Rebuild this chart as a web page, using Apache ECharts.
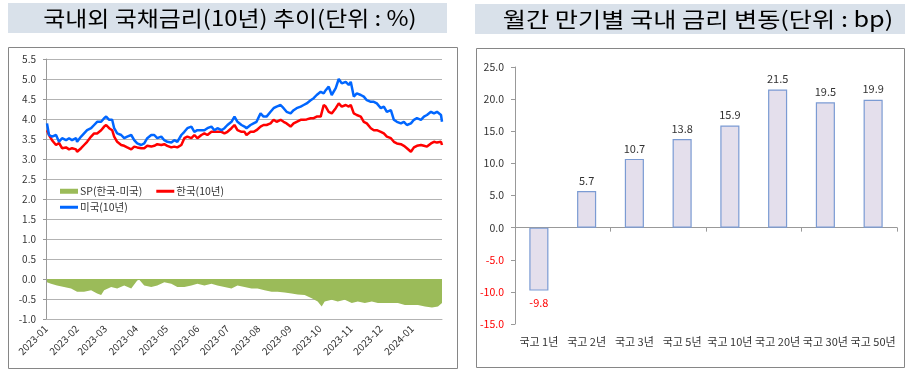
<!DOCTYPE html>
<html>
<head>
<meta charset="utf-8">
<script src="https://cdn.jsdelivr.net/npm/echarts@6/dist/echarts.min.js"></script>
<style>
  html, body { margin: 0; padding: 0; background: #fff; }
  #chart { width: 910px; height: 376px; }
</style>
</head>
<body>
<div id="chart"></div>
<script>
// 10y yields (left panel)
const lineDates = [
  '2023-01-02','2023-01-04','2023-01-07','2023-01-11','2023-01-14','2023-01-17','2023-01-21','2023-01-24','2023-01-27','2023-01-31',
  '2023-02-01','2023-02-05','2023-02-08','2023-02-11','2023-02-15','2023-02-18','2023-02-21','2023-02-25','2023-02-28',
  '2023-03-02','2023-03-05','2023-03-08','2023-03-10','2023-03-13','2023-03-17','2023-03-20','2023-03-23','2023-03-27','2023-03-30',
  '2023-04-02','2023-04-06','2023-04-09','2023-04-12','2023-04-16','2023-04-19','2023-04-22','2023-04-26','2023-04-29',
  '2023-05-02','2023-05-06','2023-05-09','2023-05-12','2023-05-16','2023-05-19','2023-05-22','2023-05-26','2023-05-29',
  '2023-06-01','2023-06-05','2023-06-08','2023-06-11','2023-06-15','2023-06-18','2023-06-21','2023-06-25','2023-06-28',
  '2023-07-01','2023-07-05','2023-07-08','2023-07-11','2023-07-15','2023-07-18','2023-07-20','2023-07-24','2023-07-27','2023-07-30',
  '2023-08-03','2023-08-06','2023-08-09','2023-08-13','2023-08-16','2023-08-19','2023-08-23','2023-08-26','2023-08-29',
  '2023-09-02','2023-09-05','2023-09-08','2023-09-12','2023-09-15','2023-09-18','2023-09-22','2023-09-25','2023-09-28',
  '2023-10-02','2023-10-05','2023-10-07','2023-10-10','2023-10-13','2023-10-17','2023-10-20','2023-10-23','2023-10-27','2023-10-30',
  '2023-11-01','2023-11-04','2023-11-07','2023-11-11','2023-11-14','2023-11-17','2023-11-21','2023-11-24','2023-11-27',
  '2023-12-01','2023-12-04','2023-12-07','2023-12-11','2023-12-14','2023-12-17','2023-12-21','2023-12-24','2023-12-27','2023-12-31',
  '2024-01-03','2024-01-06','2024-01-10','2024-01-13','2024-01-16','2024-01-20','2024-01-23','2024-01-26','2024-01-30','2024-01-31'
];
const krRates = [
  3.72,3.60,3.47,3.35,3.40,3.27,3.29,3.24,3.27,3.24,
  3.18,3.27,3.35,3.43,3.56,3.64,3.64,3.72,3.81,
  3.85,3.77,3.72,3.56,3.43,3.35,3.33,3.29,3.24,3.31,
  3.29,3.27,3.27,3.33,3.31,3.33,3.37,3.35,3.37,
  3.33,3.29,3.31,3.29,3.35,3.52,3.56,3.52,3.60,
  3.52,3.60,3.64,3.60,3.68,3.68,3.68,3.68,3.64,
  3.68,3.77,3.85,3.72,3.68,3.68,3.60,3.68,3.68,3.72,
  3.81,3.85,3.85,3.89,3.98,3.93,3.98,3.93,3.89,
  3.81,3.89,3.93,3.98,3.98,3.99,4.02,4.02,4.06,
  4.06,4.35,4.31,4.18,4.14,4.27,4.39,4.31,4.35,4.31,
  4.35,4.14,4.10,4.06,3.93,3.89,3.77,3.72,3.72,
  3.68,3.64,3.56,3.52,3.43,3.39,3.37,3.33,3.27,3.18,
  3.29,3.33,3.35,3.33,3.31,3.39,3.43,3.41,3.43,3.35
];
const usRates = [
  3.89,3.60,3.56,3.60,3.43,3.52,3.47,3.52,3.47,3.52,
  3.43,3.56,3.64,3.72,3.77,3.85,3.93,3.93,4.02,
  4.06,3.98,3.98,3.77,3.64,3.60,3.52,3.56,3.60,3.47,
  3.39,3.35,3.39,3.52,3.60,3.60,3.52,3.56,3.47,
  3.43,3.41,3.47,3.43,3.60,3.68,3.77,3.81,3.68,
  3.72,3.72,3.72,3.77,3.81,3.72,3.77,3.72,3.77,
  3.85,3.93,4.06,3.93,3.85,3.81,3.77,3.85,3.89,3.93,
  4.14,4.06,4.06,4.18,4.27,4.31,4.35,4.27,4.18,
  4.14,4.22,4.27,4.31,4.35,4.39,4.47,4.52,4.60,
  4.68,4.64,4.72,4.81,4.60,4.77,5.00,4.89,4.93,4.85,
  4.93,4.56,4.64,4.60,4.56,4.47,4.43,4.43,4.39,
  4.27,4.31,4.18,4.22,3.98,3.93,3.89,3.93,3.85,3.89,
  3.98,4.02,3.98,4.06,4.10,4.18,4.14,4.18,4.10,3.93
];
const spreadDates = [
  '2023-01-02','2023-01-06','2023-01-12','2023-01-19','2023-01-26','2023-02-01','2023-02-08','2023-02-15','2023-02-21','2023-02-25',
  '2023-02-28','2023-03-07','2023-03-13','2023-03-20','2023-03-27','2023-04-02','2023-04-04','2023-04-09','2023-04-16','2023-04-22',
  '2023-04-29','2023-05-06','2023-05-12','2023-05-19','2023-05-26','2023-06-01','2023-06-08','2023-06-15','2023-06-21','2023-06-28',
  '2023-07-05','2023-07-11','2023-07-18','2023-07-25','2023-07-31','2023-08-07','2023-08-14','2023-08-20','2023-08-27','2023-09-03',
  '2023-09-09','2023-09-16','2023-09-23','2023-09-29','2023-10-03','2023-10-06','2023-10-13','2023-10-19','2023-10-26','2023-11-02',
  '2023-11-08','2023-11-15','2023-11-22','2023-11-28','2023-12-05','2023-12-12','2023-12-18','2023-12-25','2024-01-01','2024-01-07',
  '2024-01-14','2024-01-21','2024-01-27','2024-01-31'
];
const spreadValues = [
  -0.08,-0.12,-0.16,-0.20,-0.24,-0.32,-0.32,-0.28,-0.36,-0.40,
  -0.28,-0.20,-0.24,-0.16,-0.24,-0.04,-0.02,-0.16,-0.20,-0.16,
  -0.08,-0.12,-0.20,-0.20,-0.16,-0.12,-0.16,-0.12,-0.16,-0.20,
  -0.24,-0.16,-0.20,-0.24,-0.24,-0.28,-0.32,-0.32,-0.34,-0.36,
  -0.39,-0.40,-0.48,-0.56,-0.69,-0.56,-0.52,-0.56,-0.52,-0.60,
  -0.56,-0.60,-0.56,-0.60,-0.60,-0.60,-0.60,-0.65,-0.65,-0.65,
  -0.69,-0.71,-0.69,-0.60
];

// monthly change by tenor (right panel), bp
const tenorLabels = ['국고 1년', '국고 2년', '국고 3년', '국고 5년', '국고 10년', '국고 20년', '국고 30년', '국고 50년'];
const changeBp = [-9.8, 5.7, 10.7, 13.8, 15.9, 21.5, 19.5, 19.9];

const FONT = '"Noto Sans CJK KR", "Noto Sans", sans-serif';
const LINE_ICON = 'path://M0,0H18V3H0Z';
const chart = echarts.init(document.getElementById('chart'), null, { renderer: 'canvas' });

chart.setOption({
  animation: false,
  textStyle: { fontFamily: FONT },
  graphic: [
    { type: 'rect', shape: { x: 8, y: 3, width: 439, height: 30 }, style: { fill: '#d9e1ea' } },
    { type: 'text', x: 230, y: 18, scaleX: 1.14, style: { text: '국내외 국채금리(10년) 추이(단위 : %)', align: 'center', verticalAlign: 'middle', font: '21px ' + FONT, fill: '#000' } },
    { type: 'rect', shape: { x: 475, y: 4, width: 430, height: 30 }, style: { fill: '#d9e1ea' } },
    { type: 'text', x: 698, y: 19, scaleX: 1.2, style: { text: '월간 만기별 국내 금리 변동(단위 : bp)', align: 'center', verticalAlign: 'middle', font: '21px ' + FONT, fill: '#000' } },
    { type: 'rect', shape: { x: 8.5, y: 47.5, width: 449, height: 321 }, style: { fill: 'none', stroke: '#868686', lineWidth: 1 } },
    { type: 'rect', shape: { x: 476.5, y: 48.5, width: 428, height: 319 }, style: { fill: 'none', stroke: '#868686', lineWidth: 1 } }
  ],
  legend: [
    {
      left: 57, top: 184, padding: [2, 4, 1, 3], itemGap: 14, itemWidth: 18, itemHeight: 5,
      backgroundColor: '#fff', symbolKeepAspect: true,
      textStyle: { fontSize: 10.5, color: '#333', fontFamily: FONT, padding: [0, 0, 0, -3] },
      data: [{ name: 'SP(한국-미국)', icon: 'rect' }, { name: '한국(10년)', icon: LINE_ICON }]
    },
    {
      left: 57, top: 201, padding: [1, 4, 2, 3], itemWidth: 18, itemHeight: 5,
      backgroundColor: '#fff', symbolKeepAspect: true,
      textStyle: { fontSize: 10.5, color: '#333', fontFamily: FONT, padding: [0, 0, 0, -3] },
      data: [{ name: '미국(10년)', icon: LINE_ICON }]
    }
  ],
  grid: [
    { left: 46, top: 59, width: 396, height: 260 },
    { left: 515, top: 67, width: 382, height: 257 }
  ],
  xAxis: [
    {
      type: 'time', gridIndex: 0,
      min: '2023-01-01', max: '2024-01-31',
      splitNumber: 13,
      minInterval: 28 * 86400000,
      maxInterval: 31 * 86400000,
      axisLine: { onZero: false, lineStyle: { color: '#b3b3b3' } },
      axisTick: { show: false },
      splitLine: { show: false },
      axisLabel: {
        rotate: 45, fontSize: 10, color: '#333', margin: 8,
        hideOverlap: false, showMaxLabel: false,
        formatter: '{yyyy}-{MM}'
      }
    },
    {
      type: 'category', gridIndex: 1, data: tenorLabels, position: 'bottom',
      axisLine: { onZero: true, lineStyle: { color: '#999' } },
      axisTick: { show: true, length: 4, lineStyle: { color: '#999' } },
      axisLabel: { show: false }
    },
    {
      type: 'category', gridIndex: 1, data: tenorLabels, position: 'bottom',
      axisLine: { show: false, onZero: false },
      axisTick: { show: false },
      axisLabel: { interval: 0, fontSize: 11, color: '#333', margin: 12 }
    }
  ],
  yAxis: [
    {
      type: 'value', gridIndex: 0, min: -1, max: 5.5, interval: 0.5,
      axisLine: { show: true, lineStyle: { color: '#999' } },
      axisTick: { show: true, length: 3, lineStyle: { color: '#999' } },
      splitLine: { show: true, lineStyle: { color: '#b3b3b3' } },
      axisLabel: { fontSize: 10, color: '#333', margin: 10, formatter: v => v.toFixed(1) }
    },
    {
      type: 'value', gridIndex: 1, min: -15, max: 25, interval: 5,
      axisLine: { show: true, lineStyle: { color: '#999' } },
      axisTick: { show: true, length: 4, lineStyle: { color: '#999' } },
      splitLine: { show: false },
      axisLabel: {
        fontSize: 10.5, margin: 11,
        color: v => (Number(v) < 0 ? '#ff0000' : '#333'),
        formatter: v => v.toFixed(1)
      }
    }
  ],
  series: [
    {
      name: 'SP(한국-미국)', type: 'line', xAxisIndex: 0, yAxisIndex: 0,
      data: spreadDates.map((d, i) => [d, spreadValues[i]]),
      symbol: 'none', color: '#9bbb59',
      lineStyle: { width: 0 },
      itemStyle: { color: '#9bbb59' },
      areaStyle: { color: '#9bbb59', opacity: 1 }
    },
    {
      name: '한국(10년)', type: 'line', xAxisIndex: 0, yAxisIndex: 0,
      data: lineDates.map((d, i) => [d, krRates[i]]),
      symbol: 'none', color: '#ff0000',
      itemStyle: { color: '#ff0000' },
      lineStyle: { width: 2.5, color: '#ff0000' }
    },
    {
      name: '미국(10년)', type: 'line', xAxisIndex: 0, yAxisIndex: 0,
      data: lineDates.map((d, i) => [d, usRates[i]]),
      symbol: 'none', color: '#0066ff',
      itemStyle: { color: '#0066ff' },
      lineStyle: { width: 2.5, color: '#0066ff' }
    },
    {
      name: '변동', type: 'bar', xAxisIndex: 1, yAxisIndex: 1,
      barWidth: '40%',
      itemStyle: { color: '#e4dfec', borderColor: '#7b9bd3', borderWidth: 1.2 },
      label: { show: true, position: 'top', fontSize: 11, color: '#333', formatter: p => p.value.toFixed(1) },
      data: changeBp.map(v => v < 0
        ? { value: v, label: { position: 'bottom', color: '#ff0000', distance: 7 } }
        : v)
    }
  ]
});
</script>
</body>
</html>
